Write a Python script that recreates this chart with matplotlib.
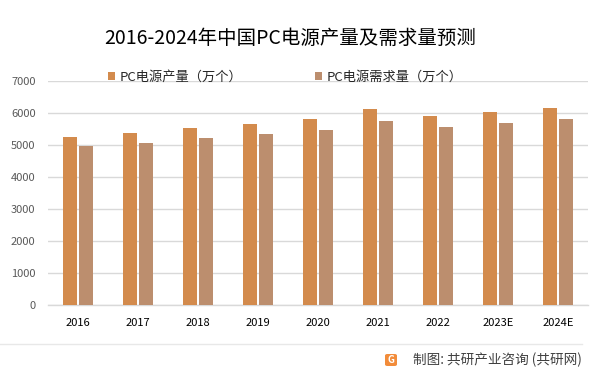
import matplotlib
matplotlib.use("Agg")
import matplotlib.pyplot as plt
import numpy as np
from matplotlib.patches import FancyBboxPatch

plt.rcParams['font.family'] = ['Noto Sans CJK SC', 'DejaVu Sans']

categories = ["2016", "2017", "2018", "2019", "2020", "2021", "2022", "2023E", "2024E"]
production = [5250, 5375, 5530, 5655, 5810, 6125, 5905, 6030, 6155]
demand = [4970, 5060, 5220, 5345, 5470, 5750, 5560, 5690, 5810]
series_names = ["PC电源产量（万个）", "PC电源需求量（万个）"]
yticks = [0, 1000, 2000, 3000, 4000, 5000, 6000, 7000]
title = "2016-2024年中国PC电源产量及需求量预测"
source = "制图: 共研产业咨询 (共研网)"

c1 = "#D38B4D"
c2 = "#BC8E6E"

W, H = 601, 376
fig = plt.figure(figsize=(W / 100, H / 100), dpi=100)
ax = fig.add_axes([48 / W, 1 - 305 / H, (588 - 48) / W, (305 - 81) / H])

x = np.arange(len(categories))
bw = 0.233
off = 0.135
b1 = ax.bar(x - off, production, bw, color=c1, label=series_names[0], zorder=3)
b2 = ax.bar(x + off, demand, bw, color=c2, label=series_names[1], zorder=3)

ax.set_xlim(-0.5, len(categories) - 0.5)
ax.set_ylim(0, 7000)
ax.set_yticks(yticks)
ax.set_yticklabels([str(v) for v in yticks])
ax.set_xticks(x)
ax.set_xticklabels(categories)
ax.yaxis.grid(True, color="#D9D9D9", linewidth=1.0, zorder=0)
ax.set_axisbelow(True)
for s in ["left", "right", "top"]:
    ax.spines[s].set_visible(False)
ax.spines["bottom"].set_color("#D9D9D9")
ax.spines["bottom"].set_linewidth(1.0)
ax.tick_params(axis="y", length=0, pad=9, labelsize=8, labelcolor="#595959")
ax.tick_params(axis="x", length=0, pad=9, labelsize=8, labelcolor="#000000")

fig.text(290 / W, 1 - 38 / H, title, ha="center", va="center", fontsize=14, color="#000000")

fig.legend(handles=[b1, b2], labels=series_names, loc="center left",
           bbox_to_anchor=(108 / W, 1 - 77 / H), ncol=2, frameon=False,
           fontsize=9.5, handlelength=0.55, handleheight=0.55, handletextpad=0.35,
           columnspacing=5.5, borderpad=0, borderaxespad=0, labelcolor="#262626")

# bottom separator and source
fig.add_artist(plt.Line2D([0, 582 / W], [1 - 344 / H, 1 - 344 / H], color="#E8E8E8", linewidth=1.0))
logo = FancyBboxPatch((385 / W, 1 - 366 / H), 12 / W, 12 / H,
                      boxstyle="round,pad=0,rounding_size=0.004",
                      transform=fig.transFigure, facecolor="#F28C3A", edgecolor="none")
fig.add_artist(logo)
fig.text(391 / W, 1 - 360 / H, "G", ha="center", va="center", fontsize=7,
         color="white", fontweight="bold")
fig.text(582 / W, 1 - 360 / H, source, ha="right", va="center", fontsize=9.8, color="#404040")

fig.savefig("out.png", dpi=100)
